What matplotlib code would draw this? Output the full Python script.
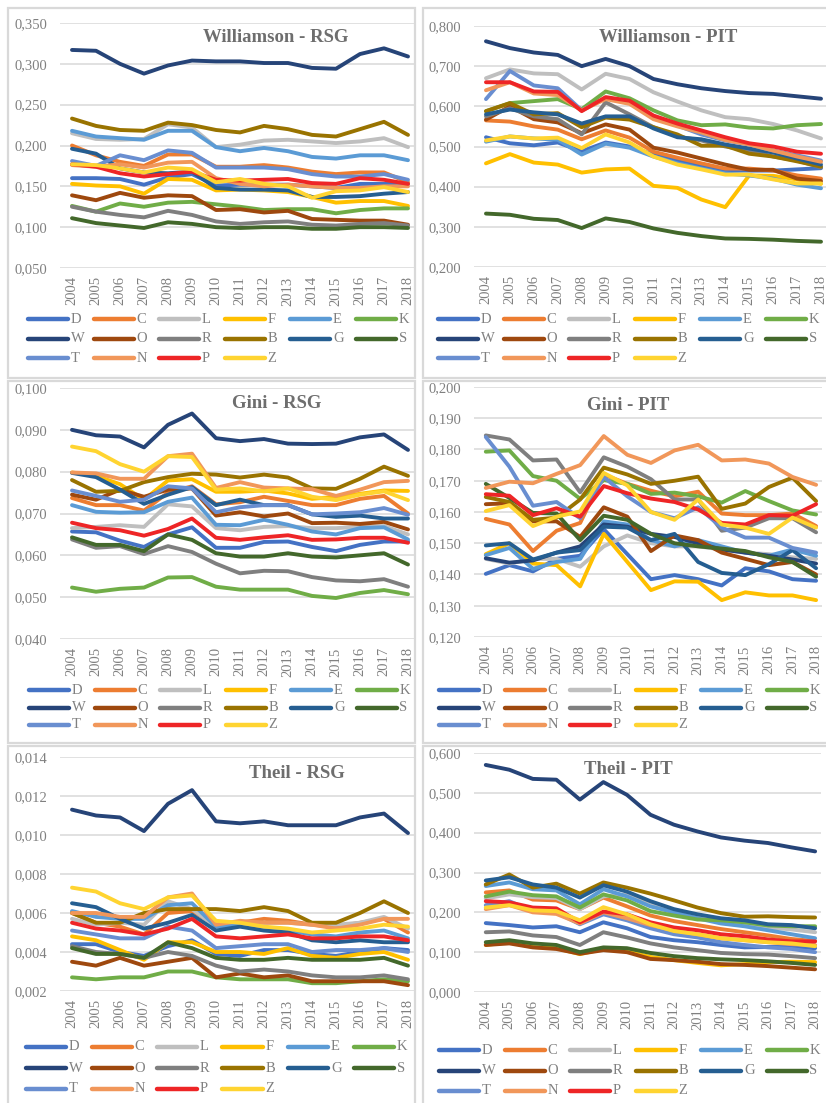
import matplotlib
matplotlib.use('Agg')
from matplotlib import pyplot as plt
from matplotlib.lines import Line2D
from matplotlib.patches import Rectangle
from matplotlib.ticker import FuncFormatter, MultipleLocator

plt.rcParams['font.family'] = ['Liberation Serif', 'DejaVu Serif']

years = [str(y) for y in range(2004, 2019)]
regions = ['D', 'C', 'L', 'F', 'E', 'K', 'W', 'O', 'R', 'B', 'G', 'S', 'T', 'N', 'P', 'Z']
colors = ['#4472C4', '#ED7D31', '#BFBFBF', '#FFC000', '#5B9BD5', '#70AD47',
          '#264478', '#9E480E', '#7F7F7F', '#997300', '#255E91', '#43682B',
          '#698ED0', '#F1975A', '#EE2526', '#FFD431']

# rows follow the order of `regions`
williamson_rsg = [
    [0.160, 0.160, 0.159, 0.152, 0.161, 0.165, 0.151, 0.152, 0.152, 0.152, 0.150, 0.148, 0.153, 0.153, 0.153],
    [0.200, 0.188, 0.180, 0.175, 0.189, 0.189, 0.174, 0.174, 0.176, 0.173, 0.168, 0.165, 0.167, 0.167, 0.155],
    [0.215, 0.208, 0.207, 0.208, 0.226, 0.222, 0.198, 0.201, 0.206, 0.207, 0.205, 0.203, 0.205, 0.209, 0.198],
    [0.153, 0.151, 0.150, 0.141, 0.159, 0.158, 0.145, 0.146, 0.145, 0.143, 0.137, 0.130, 0.132, 0.132, 0.126],
    [0.218, 0.211, 0.209, 0.207, 0.218, 0.218, 0.198, 0.193, 0.197, 0.193, 0.186, 0.184, 0.188, 0.188, 0.182],
    [0.126, 0.119, 0.129, 0.125, 0.130, 0.131, 0.128, 0.125, 0.121, 0.122, 0.122, 0.117, 0.121, 0.123, 0.123],
    [0.317, 0.316, 0.300, 0.288, 0.298, 0.304, 0.303, 0.303, 0.301, 0.301, 0.295, 0.294, 0.312, 0.319, 0.309],
    [0.139, 0.133, 0.142, 0.136, 0.139, 0.138, 0.121, 0.122, 0.118, 0.120, 0.110, 0.109, 0.108, 0.108, 0.103],
    [0.125, 0.119, 0.115, 0.112, 0.120, 0.115, 0.107, 0.104, 0.106, 0.107, 0.103, 0.102, 0.104, 0.105, 0.102],
    [0.233, 0.224, 0.219, 0.218, 0.228, 0.225, 0.219, 0.216, 0.224, 0.220, 0.213, 0.211, 0.220, 0.229, 0.213],
    [0.196, 0.190, 0.172, 0.167, 0.166, 0.168, 0.148, 0.146, 0.146, 0.145, 0.137, 0.137, 0.138, 0.141, 0.143],
    [0.111, 0.105, 0.102, 0.099, 0.106, 0.104, 0.100, 0.099, 0.100, 0.100, 0.098, 0.098, 0.100, 0.100, 0.099],
    [0.181, 0.175, 0.188, 0.182, 0.194, 0.191, 0.173, 0.173, 0.173, 0.171, 0.165, 0.162, 0.162, 0.165, 0.158],
    [0.176, 0.174, 0.177, 0.173, 0.179, 0.180, 0.160, 0.153, 0.150, 0.152, 0.150, 0.148, 0.148, 0.150, 0.150],
    [0.177, 0.174, 0.166, 0.162, 0.165, 0.168, 0.158, 0.157, 0.158, 0.159, 0.154, 0.153, 0.160, 0.158, 0.153],
    [0.177, 0.176, 0.172, 0.167, 0.173, 0.171, 0.155, 0.159, 0.153, 0.150, 0.136, 0.144, 0.145, 0.149, 0.143],
]

williamson_pit = [
    [0.523, 0.508, 0.503, 0.510, 0.488, 0.510, 0.500, 0.480, 0.465, 0.450, 0.440, 0.440, 0.440, 0.443, 0.446],
    [0.565, 0.562, 0.550, 0.542, 0.518, 0.540, 0.522, 0.487, 0.472, 0.458, 0.445, 0.445, 0.440, 0.428, 0.420],
    [0.670, 0.692, 0.682, 0.680, 0.642, 0.681, 0.668, 0.635, 0.612, 0.590, 0.573, 0.568, 0.556, 0.540, 0.520],
    [0.458, 0.481, 0.460, 0.455, 0.435, 0.443, 0.445, 0.402, 0.397, 0.368, 0.349, 0.428, 0.427, 0.418, 0.407],
    [0.512, 0.525, 0.520, 0.517, 0.480, 0.507, 0.497, 0.475, 0.458, 0.445, 0.433, 0.428, 0.420, 0.405, 0.396],
    [0.588, 0.608, 0.613, 0.618, 0.593, 0.637, 0.620, 0.590, 0.565, 0.553, 0.555, 0.547, 0.545, 0.553, 0.556],
    [0.762, 0.745, 0.734, 0.728, 0.700, 0.718, 0.700, 0.668, 0.655, 0.645, 0.638, 0.633, 0.631, 0.625, 0.619],
    [0.567, 0.600, 0.568, 0.560, 0.533, 0.555, 0.542, 0.497, 0.485, 0.470, 0.455, 0.442, 0.442, 0.420, 0.414],
    [0.575, 0.595, 0.575, 0.568, 0.530, 0.610, 0.580, 0.548, 0.525, 0.515, 0.500, 0.490, 0.475, 0.465, 0.448],
    [0.588, 0.608, 0.580, 0.583, 0.548, 0.572, 0.567, 0.548, 0.530, 0.502, 0.502, 0.482, 0.475, 0.463, 0.450],
    [0.580, 0.592, 0.585, 0.580, 0.557, 0.575, 0.575, 0.545, 0.523, 0.518, 0.505, 0.495, 0.485, 0.470, 0.455],
    [0.333, 0.330, 0.320, 0.317, 0.297, 0.321, 0.312, 0.296, 0.285, 0.277, 0.271, 0.270, 0.268, 0.265, 0.263],
    [0.618, 0.688, 0.652, 0.645, 0.590, 0.620, 0.610, 0.570, 0.552, 0.530, 0.515, 0.505, 0.490, 0.478, 0.465],
    [0.640, 0.660, 0.632, 0.628, 0.590, 0.618, 0.606, 0.568, 0.550, 0.535, 0.516, 0.505, 0.490, 0.475, 0.462],
    [0.660, 0.660, 0.637, 0.636, 0.588, 0.623, 0.614, 0.577, 0.557, 0.540, 0.523, 0.508, 0.500, 0.487, 0.482],
    [0.515, 0.525, 0.520, 0.522, 0.496, 0.530, 0.510, 0.475, 0.455, 0.443, 0.430, 0.430, 0.418, 0.408, 0.408],
]

gini_rsg = [
    [0.0657, 0.0655, 0.0635, 0.0620, 0.0650, 0.0667, 0.0618, 0.0618, 0.0632, 0.0633, 0.0620, 0.0610, 0.0625, 0.0633, 0.0633],
    [0.0737, 0.0720, 0.0720, 0.0707, 0.0750, 0.0765, 0.0722, 0.0727, 0.0740, 0.0730, 0.0720, 0.0720, 0.0735, 0.0742, 0.0700],
    [0.0665, 0.0668, 0.0672, 0.0668, 0.0722, 0.0717, 0.0665, 0.0660, 0.0668, 0.0670, 0.0665, 0.0665, 0.0668, 0.0670, 0.0650],
    [0.0798, 0.0790, 0.0770, 0.0733, 0.0779, 0.0782, 0.0752, 0.0752, 0.0755, 0.0748, 0.0735, 0.0740, 0.0747, 0.0755, 0.0754],
    [0.0720, 0.0704, 0.0702, 0.0703, 0.0728, 0.0738, 0.0673, 0.0672, 0.0685, 0.0673, 0.0657, 0.0650, 0.0665, 0.0667, 0.0638],
    [0.0523, 0.0513, 0.0520, 0.0523, 0.0547, 0.0548, 0.0525, 0.0518, 0.0518, 0.0518, 0.0503, 0.0498, 0.0510, 0.0517, 0.0507],
    [0.0900, 0.0887, 0.0884, 0.0858, 0.0912, 0.0939, 0.0880, 0.0873, 0.0878, 0.0867, 0.0866, 0.0867, 0.0882, 0.0889, 0.0852],
    [0.0745, 0.0733, 0.0757, 0.0740, 0.0757, 0.0760, 0.0695, 0.0703, 0.0693, 0.0700, 0.0677, 0.0678, 0.0675, 0.0680, 0.0662],
    [0.0638, 0.0618, 0.0622, 0.0603, 0.0622, 0.0608, 0.0580, 0.0557, 0.0563, 0.0562, 0.0548, 0.0540, 0.0538, 0.0543, 0.0525],
    [0.0780, 0.0752, 0.0754, 0.0775, 0.0787, 0.0795, 0.0793, 0.0786, 0.0793, 0.0786, 0.0760, 0.0759, 0.0783, 0.0812, 0.0790],
    [0.0797, 0.0787, 0.0757, 0.0723, 0.0745, 0.0763, 0.0720, 0.0733, 0.0720, 0.0720, 0.0698, 0.0692, 0.0695, 0.0688, 0.0688],
    [0.0643, 0.0625, 0.0625, 0.0610, 0.0650, 0.0637, 0.0605, 0.0597, 0.0597, 0.0605, 0.0597, 0.0595, 0.0600, 0.0605, 0.0578],
    [0.0755, 0.0742, 0.0728, 0.0733, 0.0765, 0.0760, 0.0703, 0.0715, 0.0720, 0.0720, 0.0698, 0.0700, 0.0703, 0.0713, 0.0697],
    [0.0798, 0.0796, 0.0783, 0.0783, 0.0837, 0.0843, 0.0761, 0.0775, 0.0762, 0.0760, 0.0758, 0.0742, 0.0757, 0.0775, 0.0778],
    [0.0678, 0.0665, 0.0660, 0.0647, 0.0663, 0.0688, 0.0642, 0.0637, 0.0643, 0.0648, 0.0637, 0.0638, 0.0642, 0.0642, 0.0630],
    [0.0860, 0.0849, 0.0818, 0.0800, 0.0837, 0.0835, 0.0757, 0.0760, 0.0753, 0.0760, 0.0740, 0.0732, 0.0745, 0.0753, 0.0732],
]

gini_pit = [
    [0.1402, 0.1430, 0.1410, 0.1450, 0.1460, 0.1545, 0.1465, 0.1385, 0.1398, 0.1385, 0.1365, 0.1420, 0.1410, 0.1385, 0.1380],
    [0.1578, 0.1560, 0.1475, 0.1540, 0.1565, 0.1720, 0.1690, 0.1668, 0.1650, 0.1665, 0.1595, 0.1590, 0.1590, 0.1595, 0.1555],
    [0.1450, 0.1435, 0.1450, 0.1450, 0.1425, 0.1490, 0.1525, 0.1500, 0.1490, 0.1490, 0.1480, 0.1470, 0.1465, 0.1455, 0.1450],
    [0.1465, 0.1500, 0.1435, 0.1430, 0.1362, 0.1530, 0.1440, 0.1350, 0.1378, 0.1377, 0.1318, 0.1343, 0.1333, 0.1333, 0.1318],
    [0.1462, 0.1485, 0.1418, 0.1440, 0.1450, 0.1570, 0.1560, 0.1510, 0.1490, 0.1510, 0.1490, 0.1470, 0.1460, 0.1480, 0.1460],
    [0.1793, 0.1797, 0.1715, 0.1700, 0.1642, 0.1702, 0.1690, 0.1658, 0.1662, 0.1650, 0.1630, 0.1667, 0.1635, 0.1605, 0.1592],
    [0.1452, 0.1438, 0.1445, 0.1470, 0.1490, 0.1560, 0.1553, 0.1530, 0.1520, 0.1500, 0.1480, 0.1470, 0.1460, 0.1448, 0.1435],
    [0.1625, 0.1628, 0.1570, 0.1570, 0.1520, 0.1615, 0.1585, 0.1475, 0.1525, 0.1510, 0.1470, 0.1450, 0.1430, 0.1440, 0.1400],
    [0.1845, 0.1832, 0.1765, 0.1768, 0.1663, 0.1775, 0.1745, 0.1705, 0.1640, 0.1640, 0.1540, 0.1550, 0.1580, 0.1580, 0.1535],
    [0.1648, 0.1632, 0.1575, 0.1582, 0.1640, 0.1742, 0.1720, 0.1690, 0.1700, 0.1713, 0.1610, 0.1627, 0.1680, 0.1710, 0.1635],
    [0.1493, 0.1500, 0.1448, 0.1470, 0.1478, 0.1553, 0.1550, 0.1510, 0.1530, 0.1440, 0.1405, 0.1398, 0.1433, 0.1478, 0.1420],
    [0.1690, 0.1645, 0.1597, 0.1595, 0.1510, 0.1588, 0.1575, 0.1530, 0.1500, 0.1490, 0.1483, 0.1475, 0.1455, 0.1440, 0.1393],
    [0.1840, 0.1745, 0.1620, 0.1632, 0.1580, 0.1712, 0.1650, 0.1600, 0.1580, 0.1615, 0.1550, 0.1518, 0.1518, 0.1485, 0.1470],
    [0.1677, 0.1697, 0.1692, 0.1722, 0.1750, 0.1843, 0.1783, 0.1757, 0.1797, 0.1815, 0.1765, 0.1768, 0.1755, 0.1712, 0.1687],
    [0.1657, 0.1652, 0.1590, 0.1612, 0.1585, 0.1683, 0.1660, 0.1643, 0.1632, 0.1608, 0.1565, 0.1560, 0.1590, 0.1588, 0.1625],
    [0.1603, 0.1622, 0.1555, 0.1585, 0.1602, 0.1725, 0.1685, 0.1600, 0.1575, 0.1640, 0.1560, 0.1550, 0.1530, 0.1582, 0.1550],
]

theil_rsg = [
    [0.0044, 0.0044, 0.0040, 0.0038, 0.0043, 0.0046, 0.0039, 0.0038, 0.0041, 0.0041, 0.0039, 0.0038, 0.0040, 0.0042, 0.0041],
    [0.0060, 0.0055, 0.0053, 0.0049, 0.0060, 0.0061, 0.0054, 0.0055, 0.0057, 0.0056, 0.0054, 0.0053, 0.0055, 0.0057, 0.0050],
    [0.0057, 0.0054, 0.0055, 0.0054, 0.0066, 0.0062, 0.0053, 0.0055, 0.0055, 0.0055, 0.0054, 0.0054, 0.0055, 0.0058, 0.0052],
    [0.0048, 0.0046, 0.0041, 0.0036, 0.0045, 0.0045, 0.0040, 0.0040, 0.0039, 0.0042, 0.0038, 0.0037, 0.0039, 0.0040, 0.0036],
    [0.0061, 0.0058, 0.0057, 0.0057, 0.0064, 0.0065, 0.0053, 0.0054, 0.0052, 0.0051, 0.0049, 0.0048, 0.0050, 0.0051, 0.0047],
    [0.0027, 0.0026, 0.0027, 0.0027, 0.0030, 0.0030, 0.0027, 0.0026, 0.0026, 0.0026, 0.0024, 0.0024, 0.0025, 0.0026, 0.0025],
    [0.0113, 0.0110, 0.0109, 0.0102, 0.0116, 0.0123, 0.0107, 0.0106, 0.0107, 0.0105, 0.0105, 0.0105, 0.0109, 0.0111, 0.0101],
    [0.0035, 0.0033, 0.0037, 0.0033, 0.0035, 0.0037, 0.0027, 0.0029, 0.0027, 0.0028, 0.0025, 0.0025, 0.0025, 0.0025, 0.0023],
    [0.0043, 0.0040, 0.0039, 0.0037, 0.0040, 0.0038, 0.0033, 0.0030, 0.0031, 0.0030, 0.0028, 0.0027, 0.0027, 0.0028, 0.0026],
    [0.0060, 0.0055, 0.0055, 0.0060, 0.0062, 0.0062, 0.0062, 0.0061, 0.0063, 0.0061, 0.0055, 0.0055, 0.0060, 0.0066, 0.0060],
    [0.0065, 0.0063, 0.0057, 0.0052, 0.0055, 0.0059, 0.0051, 0.0053, 0.0051, 0.0050, 0.0046, 0.0045, 0.0046, 0.0045, 0.0045],
    [0.0042, 0.0039, 0.0039, 0.0037, 0.0045, 0.0042, 0.0037, 0.0036, 0.0036, 0.0037, 0.0036, 0.0036, 0.0036, 0.0037, 0.0033],
    [0.0051, 0.0049, 0.0047, 0.0047, 0.0053, 0.0051, 0.0042, 0.0043, 0.0044, 0.0044, 0.0040, 0.0041, 0.0041, 0.0042, 0.0040],
    [0.0060, 0.0060, 0.0058, 0.0058, 0.0068, 0.0070, 0.0054, 0.0056, 0.0055, 0.0055, 0.0054, 0.0052, 0.0054, 0.0057, 0.0057],
    [0.0055, 0.0052, 0.0051, 0.0049, 0.0052, 0.0057, 0.0048, 0.0047, 0.0048, 0.0049, 0.0047, 0.0047, 0.0048, 0.0048, 0.0046],
    [0.0073, 0.0071, 0.0065, 0.0062, 0.0068, 0.0069, 0.0056, 0.0055, 0.0053, 0.0052, 0.0050, 0.0051, 0.0052, 0.0054, 0.0053],
]

theil_pit = [
    [0.173, 0.168, 0.162, 0.165, 0.150, 0.175, 0.160, 0.138, 0.130, 0.125, 0.118, 0.112, 0.113, 0.113, 0.110],
    [0.250, 0.255, 0.232, 0.230, 0.208, 0.237, 0.215, 0.192, 0.178, 0.168, 0.158, 0.150, 0.142, 0.133, 0.128],
    [0.235, 0.245, 0.238, 0.236, 0.208, 0.240, 0.245, 0.225, 0.200, 0.188, 0.178, 0.170, 0.162, 0.157, 0.150],
    [0.118, 0.125, 0.113, 0.110, 0.095, 0.108, 0.102, 0.088, 0.080, 0.073, 0.067, 0.070, 0.075, 0.076, 0.075],
    [0.266, 0.275, 0.258, 0.255, 0.220, 0.258, 0.240, 0.215, 0.200, 0.185, 0.172, 0.165, 0.155, 0.145, 0.135],
    [0.240, 0.252, 0.243, 0.240, 0.212, 0.245, 0.230, 0.203, 0.192, 0.182, 0.180, 0.175, 0.167, 0.165, 0.165],
    [0.570, 0.558, 0.535, 0.533, 0.483, 0.527, 0.495, 0.445, 0.420, 0.403, 0.388, 0.380, 0.374, 0.363, 0.353],
    [0.118, 0.122, 0.112, 0.108, 0.096, 0.105, 0.100, 0.083, 0.080, 0.076, 0.070, 0.068, 0.065, 0.061, 0.057],
    [0.150, 0.152, 0.142, 0.138, 0.118, 0.150, 0.137, 0.122, 0.112, 0.105, 0.098, 0.095, 0.094, 0.090, 0.085],
    [0.270, 0.295, 0.262, 0.272, 0.247, 0.275, 0.262, 0.247, 0.230, 0.212, 0.198, 0.189, 0.190, 0.188, 0.187],
    [0.280, 0.288, 0.270, 0.262, 0.237, 0.268, 0.252, 0.228, 0.208, 0.195, 0.185, 0.180, 0.170, 0.168, 0.160],
    [0.125, 0.130, 0.122, 0.118, 0.100, 0.112, 0.110, 0.098, 0.090, 0.085, 0.082, 0.080, 0.077, 0.073, 0.068],
    [0.218, 0.228, 0.203, 0.200, 0.170, 0.195, 0.180, 0.160, 0.145, 0.137, 0.125, 0.118, 0.112, 0.108, 0.100],
    [0.208, 0.218, 0.200, 0.196, 0.172, 0.200, 0.185, 0.168, 0.155, 0.145, 0.135, 0.130, 0.125, 0.120, 0.118],
    [0.228, 0.225, 0.212, 0.210, 0.175, 0.202, 0.195, 0.175, 0.162, 0.155, 0.145, 0.140, 0.132, 0.127, 0.127],
    [0.212, 0.218, 0.205, 0.203, 0.180, 0.213, 0.195, 0.170, 0.153, 0.145, 0.135, 0.130, 0.125, 0.122, 0.115],
]

W, H = 826, 1103
fig = plt.figure(figsize=(W / 100, H / 100), dpi=100)
txt = '#808080'
ttl = '#6E6E6E'
grid = '#D9D9D9'


def fx(px):
    return px / W


def fy(py):
    return 1 - py / H


# ---------- panel frames -----------------------------------------------------
frames = [(8, 8, 415, 378), (423, 8, 830, 378),
          (8, 381, 415, 743), (423, 381, 830, 743),
          (8, 746, 415, 1110), (423, 746, 830, 1110)]
for l, t, r, b in frames:
    fig.add_artist(Rectangle((fx(l), fy(b)), fx(r - l), (b - t) / H,
                             transform=fig.transFigure, facecolor='white',
                             edgecolor=grid, lw=1.6, zorder=-5))

# data, title, ylim, step, axes box (l, t, r, b), xmax, title centre, legend (x, y, dy)
panels = [
    (williamson_rsg, 'Williamson - RSG', (0.05, 0.35), 0.05, (60, 23, 414, 268), 14.25, (276, 37), (28, 319, 19.5)),
    (williamson_pit, 'Williamson - PIT', (0.2, 0.8), 0.1, (474, 26, 827, 267), 14.25, (668, 37), (438, 319, 19.5)),
    (gini_rsg, 'Gini - RSG', (0.04, 0.10), 0.01, (60, 388, 414, 639), 14.25, (277, 403), (29, 690, 17.5)),
    (gini_pit, 'Gini - PIT', (0.12, 0.20), 0.01, (474, 387, 822, 637), 14.25, (628, 405), (439, 690, 17.5)),
    (theil_rsg, 'Theil - RSG', (0.002, 0.014), 0.002, (60, 757, 414, 991), 14.25, (297, 773), (26, 1047, 21)),
    (theil_pit, 'Theil - PIT', (0.0, 0.6), 0.1, (474, 753, 821, 992), 14.25, (628, 770), (439, 1050, 20.5)),
]

x = list(range(len(years)))
for data, title, ylim, step, box, xmax, tpos, leg in panels:
    l, t, r, b = box
    ax = fig.add_axes([fx(l), fy(b), fx(r - l), (b - t) / H])
    ax.set_facecolor('none')
    handles = []
    for name, col, vals in zip(regions, colors, data):
        ln, = ax.plot(x, vals, color=col, lw=2.8, solid_capstyle='round',
                      solid_joinstyle='round', label=name)
        handles.append(ln)
    ax.set_xlim(-0.5, xmax)
    ax.set_ylim(*ylim)
    ax.yaxis.set_major_locator(MultipleLocator(step))
    ax.yaxis.set_major_formatter(FuncFormatter(lambda v, p: f'{v:.3f}'.replace('.', ',')))
    ax.set_xticks(x)
    ax.set_xticklabels(years, rotation=90)
    ax.tick_params(axis='x', length=0, pad=6, labelsize=10.5, labelcolor=txt)
    ax.tick_params(axis='y', length=0, pad=9, labelsize=10.5, labelcolor=txt)
    ax.yaxis.grid(True, color=grid, lw=1.1)
    ax.set_axisbelow(True)
    for s in ax.spines.values():
        s.set_visible(False)

    fig.text(fx(tpos[0]), fy(tpos[1]), title, ha='center', va='center',
             fontsize=13.5, fontweight='bold', color=ttl)

    # legend: 6 entries per row, like the Excel layout
    lx, ly, dy = leg
    for i, h in enumerate(handles):
        row, col = divmod(i, 6)
        x0 = lx + col * 65.5
        y0 = ly + row * dy
        fig.add_artist(Line2D([fx(x0), fx(x0 + 40)], [fy(y0), fy(y0)],
                              transform=fig.transFigure, color=h.get_color(),
                              lw=3.2, solid_capstyle='round'))
        fig.text(fx(x0 + 43), fy(y0), h.get_label(), ha='left', va='center',
                 fontsize=10.5, color=txt)

fig.savefig('out.png', dpi=100)
